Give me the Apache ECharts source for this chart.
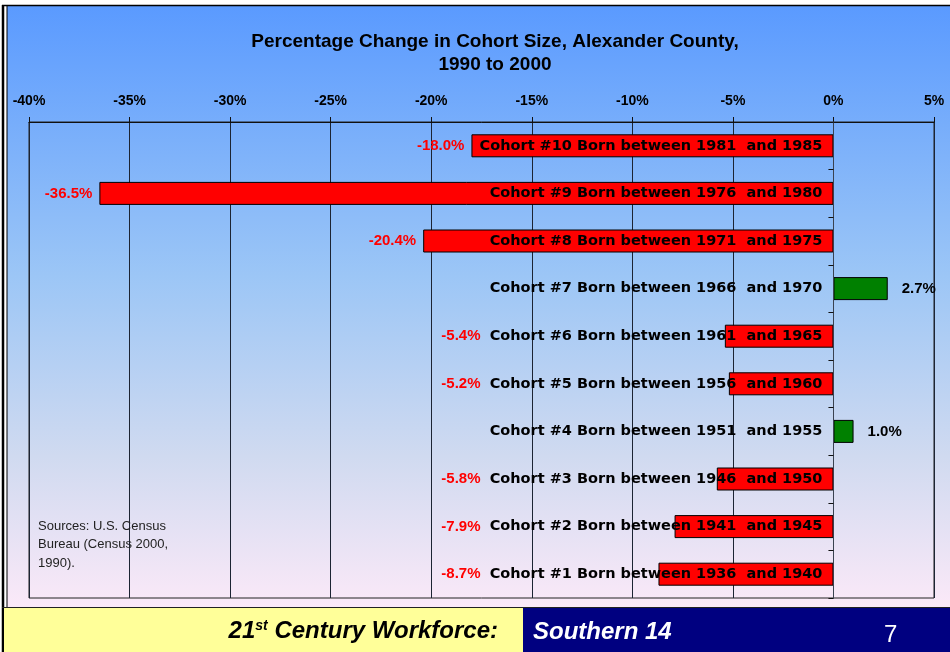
<!DOCTYPE html>
<html>
<head>
<meta charset="utf-8">
<title>Percentage Change in Cohort Size, Alexander County</title>
<script src="https://cdn.jsdelivr.net/npm/echarts@6/dist/echarts.min.js"></script>
<style>
  html, body { margin: 0; padding: 0; background: #fff; }
  #main { width: 950px; height: 652px; }
</style>
</head>
<body>
<div id="main"></div>
<script>
// categories, bottom to top
var cohorts = [
  'Cohort #1 Born between 1936  and 1940',
  'Cohort #2 Born between 1941  and 1945',
  'Cohort #3 Born between 1946  and 1950',
  'Cohort #4 Born between 1951  and 1955',
  'Cohort #5 Born between 1956  and 1960',
  'Cohort #6 Born between 1961  and 1965',
  'Cohort #7 Born between 1966  and 1970',
  'Cohort #8 Born between 1971  and 1975',
  'Cohort #9 Born between 1976  and 1980',
  'Cohort #10 Born between 1981  and 1985'
];
// percent change 1990 -> 2000
var pctChange = [-8.7, -7.9, -5.8, 1.0, -5.2, -5.4, 2.7, -20.4, -36.5, -18.0];
// x axis ticks
var xMin = -40, xMax = 5, xStep = 5;

var LABEL_EDGE = -17.2; // keep red labels left of the cohort text
var FONT = 'Liberation Sans, Arial, sans-serif';

var chart = echarts.init(document.getElementById('main'));

// invisible helper bars that only carry the value labels
var labelData = pctChange.map(function (v) {
  if (v < 0) {
    return { value: Math.min(v, LABEL_EDGE), label: { position: 'left', distance: 7, color: '#ff0000', fontWeight: 'bold' } };
  }
  return { value: v, label: { position: 'right', distance: 14, color: '#000', fontWeight: 'bold' } };
});
// zero-length helper bars that carry the cohort names, right-aligned at 0%
var nameData = cohorts.map(function () { return 0; });

var option = {
  backgroundColor: '#fff',
  animation: false,
  title: {
    text: 'Percentage Change in Cohort Size, Alexander County,\n1990 to 2000',
    left: 490,
    top: 25,
    textAlign: 'center',
    textStyle: { fontFamily: FONT, fontSize: 19, fontWeight: 'bold', color: '#000', lineHeight: 23 }
  },
  grid: {
    left: 29, right: 16, top: 122, bottom: 54,
    containLabel: false, outerBoundsMode: 'none',
    show: true, borderColor: '#222', borderWidth: 1, backgroundColor: 'transparent'
  },
  xAxis: {
    type: 'value',
    position: 'top',
    min: xMin, max: xMax, interval: xStep,
    axisLine: { show: true, lineStyle: { color: '#111', width: 1 } },
    axisTick: { show: true, length: 5, lineStyle: { color: '#111' } },
    axisLabel: {
      formatter: '{value}%', margin: 14,
      fontFamily: FONT, fontSize: 14, fontWeight: 'bold', color: '#000'
    },
    splitLine: { show: true, lineStyle: { color: '#1c2433', width: 1 } }
  },
  yAxis: {
    type: 'category',
    data: cohorts,
    z: 10,
    axisLine: { show: true, onZero: true, lineStyle: { color: '#3a4250', width: 1 } },
    axisTick: { show: true, length: 5, lineStyle: { color: '#111' } },
    axisLabel: { show: false },
    splitLine: { show: false }
  },
  series: [
    {
      name: 'Percent change',
      type: 'bar',
      data: pctChange,
      barWidth: 23,
      itemStyle: {
        color: function (p) { return p.value < 0 ? '#ff0000' : '#008000'; },
        borderColor: '#000',
        borderWidth: 1
      }
    },
    {
      name: 'labels',
      type: 'bar',
      data: labelData,
      barWidth: 23,
      barGap: '-100%',
      silent: true,
      itemStyle: { color: 'transparent', borderWidth: 0 },
      label: {
        show: true,
        fontFamily: FONT, fontSize: 15, fontWeight: 'bold',
        formatter: function (p) { return pctChange[p.dataIndex].toFixed(1) + '%'; }
      }
    },
    {
      name: 'names',
      type: 'bar',
      data: nameData,
      barWidth: 23,
      barGap: '-100%',
      silent: true,
      z: 5,
      itemStyle: { color: 'transparent', borderWidth: 0 },
      label: {
        show: true, position: 'left', distance: 11,
        fontFamily: 'DejaVu Sans, sans-serif', fontSize: 14.5, fontWeight: 'bold', color: '#000',
        formatter: function (p) { return cohorts[p.dataIndex]; }
      }
    }
  ],
  graphic: [
    {
      type: 'rect', z: -100, silent: true,
      shape: { x: 7, y: 5, width: 943, height: 602 },
      style: {
        fill: new echarts.graphic.LinearGradient(0, 0, 0, 1, [
          { offset: 0, color: '#5a9aff' },
          { offset: 0.45, color: '#9cc6f6' },
          { offset: 0.75, color: '#d0daf0' },
          { offset: 1, color: '#fbe9f8' }
        ])
      }
    },
    // slide frame
    { type: 'line', z: 50, silent: true, shape: { x1: 2, y1: 5.5, x2: 950, y2: 5.5 }, style: { stroke: '#000', lineWidth: 1.5 } },
    { type: 'line', z: 50, silent: true, shape: { x1: 3, y1: 5, x2: 3, y2: 652 }, style: { stroke: '#000', lineWidth: 2.5 } },
    { type: 'line', z: 50, silent: true, shape: { x1: 7, y1: 5, x2: 7, y2: 607 }, style: { stroke: '#000', lineWidth: 1 } },
    // footer
    {
      type: 'rect', z: 50, silent: true,
      shape: { x: 4, y: 608, width: 519, height: 44 },
      style: { fill: '#ffff99' }
    },
    {
      type: 'rect', z: 50, silent: true,
      shape: { x: 523, y: 608, width: 427, height: 44 },
      style: { fill: '#000080' }
    },
    { type: 'line', z: 51, silent: true, shape: { x1: 2, y1: 607.5, x2: 950, y2: 607.5 }, style: { stroke: '#222', lineWidth: 1 } },
    {
      type: 'text', z: 52, silent: true,
      x: 498, y: 631,
      style: {
        text: '{a|21}{s|st}{a| Century Workforce:}',
        align: 'right', verticalAlign: 'middle',
        rich: {
          a: { fontFamily: FONT, fontSize: 24, fontWeight: 'bold', fontStyle: 'italic', fill: '#000', lineHeight: 28 },
          s: { fontFamily: FONT, fontSize: 14, fontWeight: 'bold', fontStyle: 'italic', fill: '#000', lineHeight: 28, verticalAlign: 'top', padding: [2, 0, 0, 0] }
        }
      }
    },
    {
      type: 'text', z: 52, silent: true,
      x: 533, y: 632,
      style: {
        text: 'Southern 14', align: 'left', verticalAlign: 'middle',
        font: 'italic bold 24px ' + FONT, fill: '#fff'
      }
    },
    {
      type: 'text', z: 52, silent: true,
      x: 884, y: 635,
      style: {
        text: '7', align: 'left', verticalAlign: 'middle',
        font: '24px ' + FONT, fill: '#fff'
      }
    },
    // sources note
    {
      type: 'text', z: 52, silent: true,
      x: 38, y: 517,
      style: {
        text: 'Sources: U.S. Census\nBureau (Census 2000,\n1990).',
        font: '13px ' + FONT, fill: '#222', lineHeight: 18.5
      }
    }
  ]
};

chart.setOption(option);
</script>
</body>
</html>
